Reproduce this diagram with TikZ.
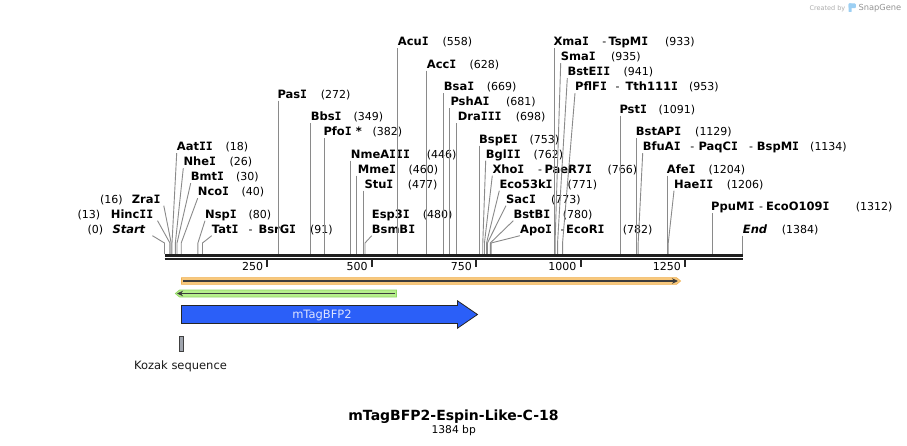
\documentclass[tikz,border=0pt]{standalone}
\usepackage{fontspec}
\setmainfont{DejaVu Sans}
\newfontfamily\monofam{DejaVu Sans Mono}
\newcommand{\sI}{{\monofam\bfseries I}}
\usetikzlibrary{arrows.meta}
\definecolor{conncol}{HTML}{8A8A8A}
\definecolor{orfill}{HTML}{F8C87C}
\definecolor{ordraw}{HTML}{EFB052}
\definecolor{grfill}{HTML}{B7EF8C}
\definecolor{grdraw}{HTML}{8FD860}
\definecolor{innerline}{HTML}{3C3C3C}
\definecolor{bfpblue}{HTML}{2B5FF8}
\definecolor{bfptext}{HTML}{DDE3FF}
\definecolor{kozak}{HTML}{A0A5AE}
\definecolor{wmblue}{HTML}{9CCFF3}
\tikzset{
  ename/.style={anchor=base west, inner sep=0pt, text height=8pt, text depth=2pt, font=\fontsize{11.5}{13}\selectfont\bfseries},
  eital/.style={ename, font=\fontsize{11.5}{13}\selectfont\bfseries\itshape},
  enum/.style={anchor=base west, inner sep=0pt, font=\fontsize{11}{13}\selectfont},
  conn/.style={draw=conncol, line width=0.9pt},
  tickline/.style={line width=2pt, black!85},
}
\newcommand{\enz}[4]{\node[ename] (#1) at (#2,{233.5-7.5*#3}) {#4};}
\newcommand{\enn}[4]{\node[enum] (#1) at (#2,{233.5-7.5*#3}) {#4};}
\newcommand{\vcon}[2]{\draw[conn] (s#2 |- #1.south west) -- (s#2);}
\newcommand{\dcon}[2]{\draw[conn] (#1.south west) -- (b#2) -- (s#2);}
\begin{document}
\begin{tikzpicture}[x=1pt,y=-1pt]
\fill[white] (0,0) rectangle (907,446);
\useasboundingbox (0,0) rectangle (907,446);

% watermark
\node[anchor=base west, inner sep=0pt, font=\fontsize{6.5}{8}\selectfont, text=black!32] (wm1) at (809.3,10.3) {Created by};
\fill[wmblue, rounded corners=1pt] (848.5,3.5) rectangle (855.8,8.2);
\fill[wmblue, rounded corners=0.6pt] (848.5,3.5) rectangle (851.6,12);
\node[anchor=base west, inner sep=0pt, font=\fontsize{8.3}{10}\selectfont, text=black!42] (wm2) at (858.3,11) {SnapGene};

% sites
\foreach \b in {0,13,16,18,26,30,40,80,91,272,349,382,446,460,477,480,558,628,669,681,698,753,762,766,771,773,780,782,933,935,941,953,1091,1129,1134,1204,1206,1312,1384}{
  \coordinate (s\b) at ({164.5+0.4177*\b},254);
  \coordinate (b\b) at ({164.5+0.4177*\b},243);
}

% ---- labels: left cluster
\enn{nStart}{87.3}{0}{(0)}
\node[eital] (Start) at (112.3,233.5) {Start};
\enn{nHincII}{77.3}{2}{(13)} \enz{HincII}{110.7}{2}{Hinc\sI\sI}
\enn{nZraI}{100}{4}{(16)} \enz{ZraI}{131.7}{4}{Zra\sI}
\enz{AatII}{176.7}{11}{Aat\sI\sI} \enn{nAatII}{225.3}{11}{(18)}
\enz{NheI}{183.3}{9}{Nhe\sI} \enn{nNheI}{229.3}{9}{(26)}
\enz{BmtI}{190.7}{7}{Bmt\sI} \enn{nBmtI}{236}{7}{(30)}
\enz{NcoI}{197.7}{5}{Nco\sI} \enn{nNcoI}{241.3}{5}{(40)}
\enz{NspI}{205}{2}{Nsp\sI} \enn{nNspI}{248.3}{2}{(80)}
\enz{TatI}{211.7}{0}{Tat\sI} \enn{dTatI}{248.5}{0}{-} \enz{BsrGI}{258.3}{0}{BsrG\sI} \enn{nTatI}{310}{0}{(91)}

% ---- middle
\enz{PasI}{277.3}{18}{Pas\sI} \enn{nPasI}{320.7}{18}{(272)}
\enz{BbsI}{310.7}{15}{Bbs\sI} \enn{nBbsI}{353.3}{15}{(349)}
\enz{PfoI}{323.3}{13}{Pfo\sI\ *} \enn{nPfoI}{372.3}{13}{(382)}
\enz{NmeAIII}{350.7}{10}{NmeA\sI\sI\sI} \enn{nNmeAIII}{426.7}{10}{(446)}
\enz{MmeI}{357.7}{8}{Mme\sI} \enn{nMmeI}{408.3}{8}{(460)}
\enz{StuI}{364.3}{6}{Stu\sI} \enn{nStuI}{407.7}{6}{(477)}
\enz{Esp3I}{371.7}{2}{Esp3\sI} \enn{nEsp3I}{422.7}{2}{(480)}
\enz{BsmBI}{371.7}{0}{BsmB\sI}
\enz{AcuI}{397.7}{25}{Acu\sI} \enn{nAcuI}{442.3}{25}{(558)}
\enz{AccI}{426.7}{22}{Acc\sI} \enn{nAccI}{469.3}{22}{(628)}
\enz{BsaI}{443.7}{19}{Bsa\sI} \enn{nBsaI}{486.7}{19}{(669)}
\enz{PshAI}{450.3}{17}{PshA\sI} \enn{nPshAI}{506}{17}{(681)}
\enz{DraIII}{457.7}{15}{Dra\sI\sI\sI} \enn{nDraIII}{515.7}{15}{(698)}
\enz{BspEI}{479}{12}{BspE\sI} \enn{nBspEI}{529.3}{12}{(753)}
\enz{BglII}{485.7}{10}{Bgl\sI\sI} \enn{nBglII}{533.3}{10}{(762)}
\enz{XhoI}{492.3}{8}{Xho\sI} \enn{dXhoI}{538}{8}{-} \enz{PaeR7I}{544.3}{8}{PaeR7\sI} \enn{nXhoI}{607.3}{8}{(766)}
\enz{Eco53kI}{499.3}{6}{Eco53k\sI} \enn{nEco53kI}{567.3}{6}{(771)}
\enz{SacI}{506}{4}{Sac\sI} \enn{nSacI}{551}{4}{(773)}
\enz{BstBI}{513.3}{2}{BstB\sI} \enn{nBstBI}{562.7}{2}{(780)}
\enz{ApoI}{520}{0}{Apo\sI} \enn{dApoI}{560.5}{0}{-} \enz{EcoRI}{566}{0}{EcoR\sI} \enn{nApoI}{622.7}{0}{(782)}

% ---- right
\enz{XmaI}{553.3}{25}{Xma\sI} \enn{dXmaI}{602.2}{25}{-} \enz{TspMI}{608.3}{25}{TspM\sI} \enn{nXmaI}{665}{25}{(933)}
\enz{SmaI}{560.7}{23}{Sma\sI} \enn{nSmaI}{611}{23}{(935)}
\enz{BstEII}{567.3}{21}{BstE\sI\sI} \enn{nBstEII}{623.3}{21}{(941)}
\enz{PflFI}{575}{19}{PflF\sI} \enn{dPflFI}{615.5}{19}{-} \enz{Tth111I}{625.3}{19}{Tth111\sI} \enn{nPflFI}{689}{19}{(953)}
\enz{PstI}{619.3}{16}{Pst\sI} \enn{nPstI}{658.3}{16}{(1091)}
\enz{BstAPI}{635.7}{13}{BstAP\sI} \enn{nBstAPI}{695}{13}{(1129)}
\enz{BfuAI}{642.7}{11}{BfuA\sI} \enn{dBfuAI}{690.2}{11}{-} \enz{PaqCI}{698.3}{11}{PaqC\sI} \enn{dPaqCI}{748.8}{11}{-} \enz{BspMI}{756.7}{11}{BspM\sI} \enn{nBfuAI}{810}{11}{(1134)}
\enz{AfeI}{666.7}{8}{Afe\sI} \enn{nAfeI}{708.3}{8}{(1204)}
\enz{HaeII}{674}{6}{Hae\sI\sI} \enn{nHaeII}{726.7}{6}{(1206)}
\enz{PpuMI}{711}{3}{PpuM\sI} \enn{dPpuMI}{758.8}{3}{-} \enz{EcoO109I}{766}{3}{EcoO109\sI} \enn{nPpuMI}{855.7}{3}{(1312)}
\node[eital] (End) at (742.7,233.5) {End}; \enn{nEnd}{781.7}{0}{(1384)}

% ---- connectors
\draw[conn] ([xshift=7pt]Start.south east) -- (b0) -- (s0);
\draw[conn] ([xshift=4pt]HincII.south east) -- (b13) -- (s13);
\draw[conn] ([xshift=3pt]ZraI.south east) -- (b16) -- (s16);
\dcon{AatII}{18} \dcon{NheI}{26} \dcon{BmtI}{30} \dcon{NcoI}{40}
\dcon{NspI}{80} \dcon{TatI}{91}
\vcon{PasI}{272} \vcon{BbsI}{349} \vcon{PfoI}{382} \vcon{NmeAIII}{446}
\vcon{MmeI}{460} \vcon{StuI}{477} \dcon{BsmBI}{480}
\vcon{AcuI}{558} \vcon{AccI}{628} \vcon{BsaI}{669} \vcon{PshAI}{681} \vcon{DraIII}{698}
\vcon{BspEI}{753} \dcon{BglII}{762} \dcon{XhoI}{766} \dcon{Eco53kI}{771}
\dcon{SacI}{773} \dcon{BstBI}{780} \dcon{ApoI}{782}
\vcon{XmaI}{933} \dcon{SmaI}{935} \dcon{BstEII}{941} \dcon{PflFI}{953}
\vcon{PstI}{1091} \vcon{BstAPI}{1129} \dcon{BfuAI}{1134}
\vcon{AfeI}{1204} \dcon{HaeII}{1206} \vcon{PpuMI}{1312} \vcon{End}{1384}

% ---- map line
\draw[line width=3pt, black!88] (s0 |- 0,255.5) -- (s1384 |- 0,255.5);
\draw[line width=2.2pt, black!88] (s0 |- 0,259.3) -- (s1384 |- 0,259.3);
\foreach \t in {250,500,750,1000,1250}{
  \draw[tickline] ({162.9+0.4177*\t},260) -- ({162.9+0.4177*\t},267.5);
  \node[enum, anchor=base east] (t\t) at ({162.9+0.4177*\t-4},270.3) {\t};
}

% ---- features
\filldraw[fill=orfill, draw=ordraw, line width=0.6pt] (181.5,277.6) -- (676.5,277.6) -- (680.6,281) -- (676.5,284.4) -- (181.5,284.4) -- cycle;
\draw[innerline, line width=1.8pt, -{Stealth[length=6pt,width=5.5pt]}] (183,281) -- (678,281);
\filldraw[fill=grfill, draw=grdraw, line width=0.6pt] (396.5,290) -- (179.5,290) -- (175.3,293.5) -- (179.5,297) -- (396.5,297) -- cycle;
\draw[innerline, line width=1.8pt, -{Stealth[length=6pt,width=5.5pt]}] (395,293.5) -- (177,293.5);

\filldraw[fill=bfpblue, draw=black!85, line width=0.8pt] (181.5,305.5) -- (457.5,305.5) -- (457.5,300.8) -- (477.5,314.5) -- (457.5,328.2) -- (457.5,323.5) -- (181.5,323.5) -- cycle;
\node[anchor=base, inner sep=0pt, font=\fontsize{11.5}{13}\selectfont, text=bfptext] (bfp) at (322,318.7) {mTagBFP2};

\filldraw[fill=kozak, draw=black!75, line width=0.7pt] (179.5,336) rectangle (183.5,351);
\node[anchor=base, inner sep=0pt, font=\fontsize{11.5}{13}\selectfont, text=black!90] (kozak) at (180.5,369) {Kozak sequence};

% ---- title
\node[anchor=base, inner sep=0pt, font=\fontsize{14}{16}\selectfont\bfseries] (title) at (453.5,420.5) {mTagBFP2-Espin-Like-C-18};
\node[anchor=base, inner sep=0pt, font=\fontsize{10.7}{12}\selectfont] (len) at (453.7,433.5) {1384 bp};
\end{tikzpicture}
\end{document}
